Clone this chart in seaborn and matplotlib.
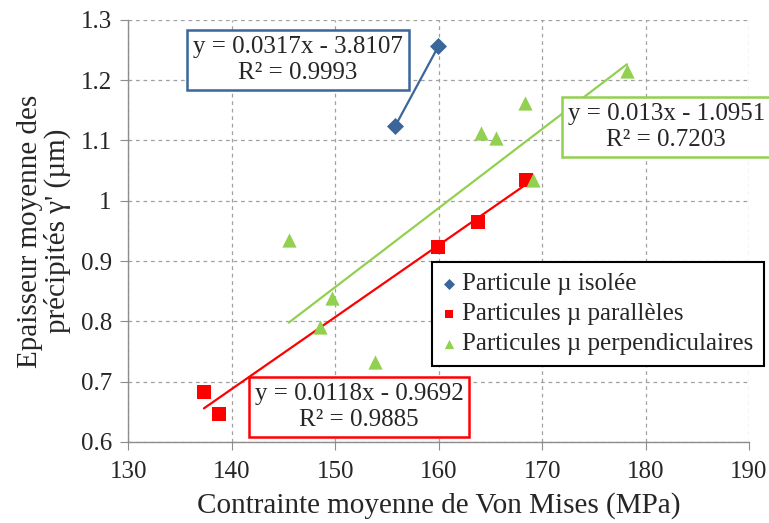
import seaborn as sns
import pandas as pd
import numpy as np
import matplotlib
matplotlib.use("Agg")
import matplotlib.pyplot as plt

# data
isolee_x = [155.8, 159.96]
isolee_y = [1.124, 1.256]
paralleles_x = [137.3, 138.75, 159.96, 163.8, 168.4]
paralleles_y = [0.682, 0.647, 0.924, 0.965, 1.035]
perpend_x = [145.5, 149.7, 148.5, 153.8, 164.06, 165.5, 168.3, 169.1, 178.2]
perpend_y = [0.935, 0.838, 0.791, 0.733, 1.112, 1.104, 1.162, 1.035, 1.216]

series_names = ["Particule µ isolée", "Particules µ parallèles", "Particules µ perpendiculaires"]
equations = ["y = 0.0317x - 3.8107\nR² = 0.9993",
             "y = 0.0118x - 0.9692\nR² = 0.9885",
             "y = 0.013x - 1.0951\nR² = 0.7203"]

colors = {series_names[0]: "#3A6699", series_names[1]: "#FF0000", series_names[2]: "#92D050"}
markers = {series_names[0]: "D", series_names[1]: "s", series_names[2]: "^"}

df = pd.concat([
    pd.DataFrame({"x": isolee_x, "y": isolee_y, "Série": series_names[0]}),
    pd.DataFrame({"x": paralleles_x, "y": paralleles_y, "Série": series_names[1]}),
    pd.DataFrame({"x": perpend_x, "y": perpend_y, "Série": series_names[2]}),
], ignore_index=True)

sns.set_style("white")
plt.rcParams['font.family'] = ['Liberation Serif', 'DejaVu Serif']

fig = plt.figure(figsize=(7.69, 5.23), dpi=100)
ax = fig.add_axes([0.167, 0.155, 0.807, 0.807])

# trend lines (linear fit over the data range)
for name in series_names:
    sub = df[df["Série"] == name]
    a, b = np.polyfit(sub["x"], sub["y"], 1)
    xs = np.array([sub["x"].min(), sub["x"].max()])
    ax.plot(xs, a * xs + b, color=colors[name], linewidth=1.6, zorder=2)

sizes = {series_names[0]: 75, series_names[1]: 95, series_names[2]: 105}
for name in series_names:
    sns.scatterplot(data=df[df["Série"] == name], x="x", y="y", color=colors[name],
                    marker=markers[name], s=sizes[name], linewidth=0, ax=ax,
                    label=name, zorder=3)

ax.set_xlim(130, 190)
ax.set_ylim(0.6, 1.3)
ax.set_xticks(np.arange(130, 191, 10))
ax.set_yticks(np.arange(0.6, 1.31, 0.1))
ax.set_yticklabels(["0.6", "0.7", "0.8", "0.9", "1", "1.1", "1.2", "1.3"])
ax.grid(True, linestyle=(0, (3, 3)), color="#A0A0A0", linewidth=0.9)
for s in ["top", "right"]:
    ax.spines[s].set_visible(False)
for s in ["left", "bottom"]:
    ax.spines[s].set_color("#8C8C8C")
    ax.spines[s].set_linewidth(1.0)
ax.tick_params(axis="both", which="both", direction="out", length=6, color="#8C8C8C",
               labelsize=18, left=True, bottom=True, pad=6)
ax.tick_params(axis="x", pad=8)

ax.set_xlabel("Contrainte moyenne de Von Mises (MPa)", fontsize=21, labelpad=6)
ax.set_ylabel("Epaisseur moyenne des\nprécipités γ' (µm)", fontsize=21, labelpad=7, linespacing=1.0)

# equation boxes
box_pos = [(146.4, 1.234), (152.3, 0.658), (182.0, 1.122)]
for name, eq, pos in zip(series_names, equations, box_pos):
    ax.text(pos[0], pos[1], eq, fontsize=18, ha="center", va="center", linespacing=1.22,
            bbox=dict(boxstyle="square,pad=0.24", facecolor="white", edgecolor=colors[name], linewidth=1.8),
            zorder=5, clip_on=False)

leg = ax.legend(loc="upper left", bbox_to_anchor=(0.489, 0.426), fontsize=18, frameon=True,
                fancybox=False, edgecolor="black", framealpha=1, handlelength=0.5, handletextpad=0.3,
                borderpad=0.42, labelspacing=0.3, borderaxespad=0, markerscale=0.65)
leg.get_frame().set_linewidth(1.5)
leg.set_zorder(6)

fig.savefig("out.png", dpi=100)
